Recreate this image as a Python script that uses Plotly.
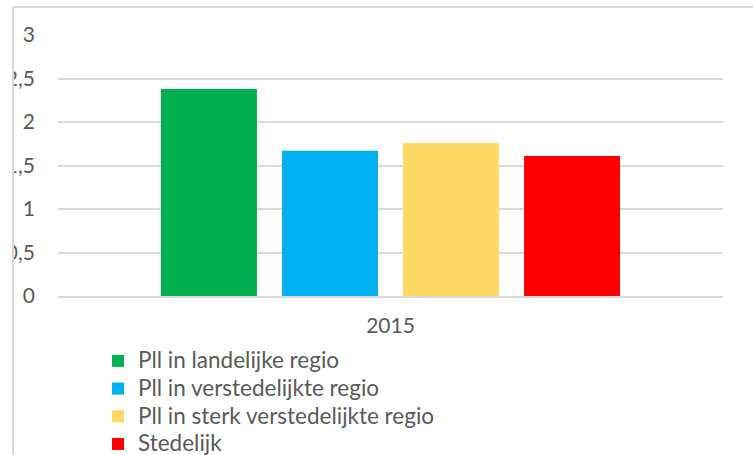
import plotly.graph_objects as go

categories = ["2015"]
series_names = [
    "Pll in landelijke regio",
    "Pll in verstedelijkte regio",
    "Pll in sterk verstedelijkte regio",
    "Stedelijk",
]
series_values = [
    [2.38],
    [1.67],
    [1.76],
    [1.61],
]
series_colors = ["#00B050", "#00B0F0", "#FFD966", "#FF0000"]
y_tickvals = [0, 0.5, 1, 1.5, 2, 2.5, 3]
y_ticktext = ["0", "0,5", "1", "1,5", "2", "2,5", "3"]

W, H = 753, 455
ML, MR, MT, MB = 58, 30, 35, 159
PW, PH = W - ML - MR, H - MT - MB

def px_x(p):
    return (p - ML) / PW

def px_y(p):
    return (H - MB - p) / PH

FONT = "Lato"
TXT = "#595959"
GRID = "#D9D9D9"

fig = go.Figure()
for name, vals, col in zip(series_names, series_values, series_colors):
    fig.add_trace(go.Bar(
        x=categories, y=vals,
        name='<span style="font-size:22.5px">' + name + '</span>',
        marker=dict(color=col, line=dict(width=0)),
    ))

fig.update_layout(
    width=W, height=H,
    margin=dict(l=ML, r=MR, t=MT, b=MB, autoexpand=False),
    paper_bgcolor="white", plot_bgcolor="white",
    barmode="group", bargap=0.272, bargroupgap=0.207,
    font=dict(family=FONT, color=TXT, size=21),
    showlegend=True,
    legend=dict(
        x=px_x(98), y=px_y(342), xanchor="left", yanchor="top",
        font=dict(family=FONT, size=19, color=TXT),
        bgcolor="rgba(0,0,0,0)", borderwidth=0,
        tracegroupgap=0, itemclick=False,
    ),
    xaxis=dict(
        showgrid=False, showline=True, linecolor=GRID, linewidth=1.5,
        ticks="", tickfont=dict(family=FONT, size=21, color=TXT),
        ticklabelstandoff=10, zeroline=False,
    ),
    yaxis=dict(
        range=[0, 3], tickvals=y_tickvals, ticktext=y_ticktext,
        showgrid=True, gridcolor=GRID, gridwidth=1.5,
        zeroline=False, showline=False, ticks="",
        tickfont=dict(family=FONT, size=21, color=TXT),
        ticklabelstandoff=22,
    ),
)

# container border (chart is cropped on the left)
fig.add_shape(type="rect", xref="paper", yref="paper", layer="above",
              x0=px_x(-5), x1=px_x(13), y0=px_y(H + 5), y1=px_y(-5),
              fillcolor="white", line=dict(width=0))
fig.add_shape(type="line", xref="paper", yref="paper", layer="above",
              x0=px_x(13), x1=px_x(13), y0=px_y(7), y1=px_y(H + 5),
              line=dict(color=GRID, width=2))
fig.add_shape(type="line", xref="paper", yref="paper", layer="above",
              x0=px_x(13), x1=px_x(W + 5), y0=px_y(7), y1=px_y(7),
              line=dict(color=GRID, width=2))

fig.write_html("out.html", config={"displayModeBar": False},
               post_script="document.body.style.margin='0';")
